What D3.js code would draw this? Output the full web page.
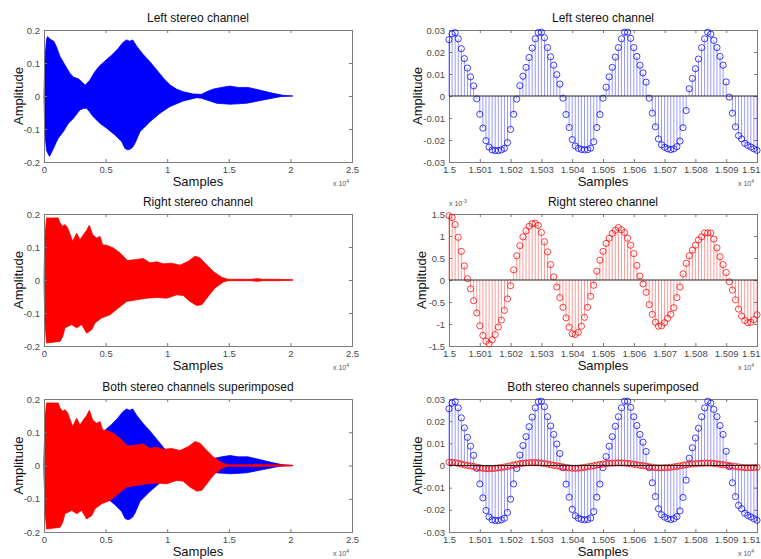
<!DOCTYPE html>
<html>
<head>
<meta charset="utf-8">
<script src="https://cdn.jsdelivr.net/npm/d3@7"></script>
<style>
  body { margin: 0; background: #fff; }
  svg { display: block; }
  text { font-family: "Liberation Sans", Arial, Helvetica, sans-serif; }
</style>
</head>
<body>
<svg id="chart" width="761" height="559"></svg>
<script>
// ---- Full-length waveform envelopes (sample index, amplitude) ----
const leftUpperX = [0, 60, 200, 300, 450, 600, 800, 1000, 1300, 1700, 2100, 2400, 2800, 3050, 3350, 3700, 4100, 4500, 4950, 5500, 6000, 6400, 6700, 6950, 7200, 7500, 8050, 8600, 9150, 9700, 10250, 10750, 11300, 12100, 12800, 13200, 13750, 14400, 15100, 15750, 16550, 17500, 18600, 19400, 20200];
const leftUpper  = [0, 0.100, 0.172, 0.180, 0.174, 0.170, 0.166, 0.150, 0.120, 0.094, 0.069, 0.057, 0.052, 0.043, 0.033, 0.047, 0.072, 0.091, 0.106, 0.124, 0.143, 0.162, 0.170, 0.166, 0.170, 0.152, 0.126, 0.104, 0.079, 0.054, 0.033, 0.021, 0.013, 0.006, 0.005, 0.013, 0.021, 0.026, 0.030, 0.026, 0.026, 0.018, 0.008, 0.002, 0];
const leftLowerX = [0, 60, 200, 450, 600, 760, 1000, 1160, 1570, 1970, 2380, 2920, 3200, 3460, 3700, 4000, 4550, 5090, 5760, 6300, 6570, 6800, 6980, 7200, 7390, 7790, 8600, 9420, 10230, 11300, 12390, 12800, 13200, 14010, 15100, 16450, 17800, 19160, 20200];
const leftLower  = [0, -0.100, -0.165, -0.183, -0.172, -0.159, -0.140, -0.128, -0.108, -0.083, -0.068, -0.042, -0.038, -0.037, -0.048, -0.063, -0.083, -0.098, -0.118, -0.138, -0.159, -0.163, -0.161, -0.155, -0.143, -0.108, -0.078, -0.052, -0.032, -0.015, -0.005, -0.007, -0.012, -0.022, -0.025, -0.022, -0.012, -0.002, 0];

const rightUpperX = [0, 60, 200, 1150, 1300, 1520, 1700, 1900, 2100, 2330, 2650, 2920, 3190, 3450, 3680, 3950, 4270, 4550, 4760, 5090, 5630, 6170, 6770, 7520, 8060, 8600, 9150, 9690, 10360, 11040, 11720, 12260, 12660, 13200, 13740, 14420, 14960, 16800, 17300, 17800, 19000, 20200];
const rightUpper  = [0, 0.120, 0.188, 0.188, 0.173, 0.163, 0.168, 0.160, 0.140, 0.117, 0.142, 0.122, 0.137, 0.150, 0.166, 0.137, 0.127, 0.132, 0.107, 0.105, 0.097, 0.082, 0.059, 0.062, 0.065, 0.052, 0.055, 0.049, 0.051, 0.045, 0.057, 0.072, 0.067, 0.046, 0.026, 0.008, 0.002, 0.002, 0.004, 0.002, 0.002, 0.001];
const rightLowerX = [0, 60, 200, 1300, 1520, 1700, 2250, 2650, 3060, 3460, 3870, 4140, 4680, 5360, 6030, 6710, 7520, 8330, 9150, 9960, 10770, 11300, 11850, 12390, 12800, 13340, 13880, 14560, 14960, 16800, 17300, 17800, 19000, 20200];
const rightLower  = [0, -0.120, -0.191, -0.186, -0.171, -0.145, -0.135, -0.145, -0.135, -0.161, -0.151, -0.130, -0.115, -0.105, -0.085, -0.065, -0.060, -0.055, -0.053, -0.055, -0.045, -0.047, -0.065, -0.077, -0.075, -0.049, -0.024, -0.006, -0.002, -0.002, -0.004, -0.002, -0.002, -0.001];

// ---- Detail window: samples 15000..15100 ----
const detailStart = 15000;
const leftDetail = [
  0.0256, 0.0282, 0.0288, 0.0260, 0.0215, 0.0170, 0.0127, 0.0087, 0.0046, -0.0013,
  -0.0083, -0.0146, -0.0203, -0.0232, -0.0245, -0.0248, -0.0248, -0.0245, -0.0238, -0.0212,
  -0.0152, -0.0083, -0.0014, 0.0047, 0.0090, 0.0130, 0.0175, 0.0218, 0.0260, 0.0288,
  0.0290, 0.0265, 0.0220, 0.0178, 0.0140, 0.0097, 0.0054, -0.0010, -0.0084, -0.0143,
  -0.0198, -0.0227, -0.0238, -0.0243, -0.0245, -0.0244, -0.0237, -0.0208, -0.0143, -0.0084,
  -0.0010, 0.0040, 0.0087, 0.0130, 0.0177, 0.0220, 0.0260, 0.0290, 0.0290, 0.0262,
  0.0220, 0.0180, 0.0140, 0.0105, 0.0063, -0.0010, -0.0078, -0.0140, -0.0195, -0.0222,
  -0.0233, -0.0240, -0.0244, -0.0240, -0.0230, -0.0205, -0.0144, -0.0066, 0.0033, 0.0080,
  0.0124, 0.0168, 0.0220, 0.0260, 0.0290, 0.0281, 0.0253, 0.0220, 0.0180, 0.0140,
  0.0064, -0.0005, -0.0078, -0.0140, -0.0180, -0.0195, -0.0215, -0.0225, -0.0232, -0.0240,
  -0.0247
];
// right channel in units of 1e-3
const rightDetailMilli = [
  1.46, 1.42, 1.26, 0.97, 0.65, 0.32, 0.03, -0.20, -0.47, -0.75,
  -1.04, -1.26, -1.39, -1.45, -1.36, -1.24, -1.07, -0.91, -0.69, -0.43,
  -0.13, 0.23, 0.55, 0.78, 0.98, 1.12, 1.22, 1.28, 1.29, 1.24,
  1.08, 0.87, 0.64, 0.35, 0.07, -0.16, -0.40, -0.62, -0.86, -1.07,
  -1.22, -1.24, -1.19, -1.05, -0.85, -0.62, -0.37, -0.12, 0.20, 0.45,
  0.65, 0.83, 0.95, 1.06, 1.13, 1.19, 1.14, 1.08, 0.95, 0.79,
  0.60, 0.33, 0.09, -0.09, -0.28, -0.56, -0.78, -0.96, -1.05, -1.04,
  -0.97, -0.87, -0.78, -0.63, -0.40, -0.16, 0.14, 0.38, 0.55, 0.68,
  0.79, 0.91, 0.98, 1.07, 1.07, 1.07, 0.93, 0.73, 0.53, 0.35,
  0.17, -0.04, -0.23, -0.45, -0.66, -0.82, -0.92, -0.97, -0.96, -0.90,
  -0.79
];

// ---- Tick values and labels ----
const fullXTicks = [0, 5000, 10000, 15000, 20000, 25000];
const fullXLabels = ["0", "0.5", "1", "1.5", "2", "2.5"];
const fullYTicks = [0.2, 0.1, 0, -0.1, -0.2];
const fullYLabels = ["0.2", "0.1", "0", "-0.1", "-0.2"];
const detailXTicks = [15000, 15010, 15020, 15030, 15040, 15050, 15060, 15070, 15080, 15090, 15100];
const detailXLabels = ["1.5", "1.501", "1.502", "1.503", "1.504", "1.505", "1.506", "1.507", "1.508", "1.509", "1.51"];
const detailYTicks = [0.03, 0.02, 0.01, 0, -0.01, -0.02, -0.03];
const detailYLabels = ["0.03", "0.02", "0.01", "0", "-0.01", "-0.02", "-0.03"];
const milliYTicks = [1.5e-3, 1e-3, 0.5e-3, 0, -0.5e-3, -1e-3, -1.5e-3];
const milliYLabels = ["1.5", "1", "0.5", "0", "-0.5", "-1", "-1.5"];

const titles = [
  ["Left stereo channel", "Left stereo channel"],
  ["Right stereo channel", "Right stereo channel"],
  ["Both stereo channels superimposed", "Both stereo channels superimposed"]
];

const BLUE = "#0000ff", RED = "#ff0000";

// ---- Layout ----
const svg = d3.select("#chart");
const W = 761;
const cols = [{ l: 44, r: 352, ylab: 22.5 }, { l: 449, r: 757, ylab: 421.5 }];
const rows = [{ t: 30, b: 162 }, { t: 214, b: 346 }, { t: 399, b: 532 }];

function frame(x, y, xt, xl, yt, yl, title, ylabX) {
  const [x0, x1] = x.range();
  const [yb, yt0] = y.range();
  const g = svg.append("g").attr("color", "#4a4a4a");
  const fmtX = (d, i) => xl[i], fmtY = (d, i) => yl[i];
  const ax = [
    g.append("g").attr("transform", `translate(0,${yb})`)
      .call(d3.axisBottom(x).tickValues(xt).tickFormat(fmtX).tickSize(-3).tickPadding(4)),
    g.append("g").attr("transform", `translate(0,${yt0})`)
      .call(d3.axisTop(x).tickValues(xt).tickFormat("").tickSize(-3)),
    g.append("g").attr("transform", `translate(${x0},0)`)
      .call(d3.axisLeft(y).tickValues(yt).tickFormat(fmtY).tickSize(-3).tickPadding(4)),
    g.append("g").attr("transform", `translate(${x1},0)`)
      .call(d3.axisRight(y).tickValues(yt).tickFormat("").tickSize(-3))
  ];
  ax.forEach(a => {
    a.select(".domain").remove();
    a.selectAll("text").attr("font-size", 9.5).attr("font-family", null);
    a.selectAll("line").attr("stroke", "#777");
  });
  // keep a tick label that would run past the page edge inside it
  ax[0].selectAll("text").each(function () {
    const t = d3.select(this);
    const tx = x(xt[xl.indexOf(t.text())]);
    const w = this.getComputedTextLength();
    if (tx + w / 2 > W - 1) t.attr("text-anchor", "end").attr("x", W - 1 - tx);
  });
  g.append("rect").attr("x", x0 + 0.5).attr("y", yt0 + 0.5)
    .attr("width", x1 - x0).attr("height", yb - yt0)
    .attr("fill", "none").attr("stroke", "#7c7c7c");

  const cx = (x0 + x1) / 2, cy = (yb + yt0) / 2;
  svg.append("text").attr("x", cx).attr("y", yt0 - 8)
    .attr("text-anchor", "middle").attr("font-size", 12).attr("fill", "#111").text(title);
  svg.append("text").attr("x", cx).attr("y", yb + 24)
    .attr("text-anchor", "middle").attr("font-size", 13).attr("fill", "#111").text("Samples");
  svg.append("text").attr("transform", `translate(${ylabX},${cy}) rotate(-90)`)
    .attr("text-anchor", "middle").attr("font-size", 13).attr("fill", "#111").text("Amplitude");

  // x-axis exponent label
  const ex = svg.append("text").attr("x", x1 - 3).attr("y", yb + 24)
    .attr("text-anchor", "end").attr("font-size", 7).attr("fill", "#555");
  ex.append("tspan").text("x 10");
  ex.append("tspan").attr("dy", -3).attr("font-size", 5).text("4");
}

function envelope(x, y, ux, uv, lx, lv, color) {
  const pts = ux.map((s, i) => [s, uv[i]])
    .concat(lx.map((s, i) => [s, lv[i]]).reverse());
  const line = d3.line().x(p => x(p[0])).y(p => y(p[1]));
  svg.append("path").attr("d", line(pts) + "Z").attr("fill", color)
    .attr("stroke", color).attr("stroke-width", 0.8).attr("stroke-linejoin", "round");
}

function stems(x, y, vals, color) {
  const xs = vals.map((d, i) => detailStart + i);
  const g = svg.append("g");
  g.append("g").selectAll("line").data(vals).join("line")
    .attr("x1", (d, i) => x(xs[i])).attr("x2", (d, i) => x(xs[i]))
    .attr("y1", y(0)).attr("y2", d => y(d))
    .attr("stroke", color).attr("stroke-opacity", 0.4).attr("stroke-width", 1);
  g.append("g").selectAll("circle").data(vals).join("circle")
    .attr("cx", (d, i) => x(xs[i])).attr("cy", d => y(d)).attr("r", 3.1)
    .attr("fill", "none").attr("stroke", color).attr("stroke-opacity", 0.75).attr("stroke-width", 1);
}

function baseline(x, y) {
  svg.append("line").attr("x1", x.range()[0]).attr("x2", x.range()[1])
    .attr("y1", y(0)).attr("y2", y(0)).attr("stroke", "#222").attr("stroke-width", 1);
}

const rightMilli = rightDetailMilli.map(v => v * 1e-3);

rows.forEach((row, ri) => {
  // Full-length waveform (left column)
  const xF = d3.scaleLinear().domain([0, 25000]).range([cols[0].l, cols[0].r]);
  const yF = d3.scaleLinear().domain([-0.2, 0.2]).range([row.b, row.t]);
  if (ri === 0 || ri === 2) envelope(xF, yF, leftUpperX, leftUpper, leftLowerX, leftLower, BLUE);
  if (ri === 1 || ri === 2) envelope(xF, yF, rightUpperX, rightUpper, rightLowerX, rightLower, RED);
  frame(xF, yF, fullXTicks, fullXLabels, fullYTicks, fullYLabels, titles[ri][0], cols[0].ylab);

  // Detail stem plot (right column)
  const xD = d3.scaleLinear().domain([15000, 15100]).range([cols[1].l, cols[1].r]);
  if (ri === 1) {
    const yD = d3.scaleLinear().domain([-1.5e-3, 1.5e-3]).range([row.b, row.t]);
    frame(xD, yD, detailXTicks, detailXLabels, milliYTicks, milliYLabels, titles[ri][1], 426);
    stems(xD, yD, rightMilli, RED);
    baseline(xD, yD);
    const ey = svg.append("text").attr("x", cols[1].l).attr("y", row.t - 8)
      .attr("font-size", 7).attr("fill", "#555");
    ey.append("tspan").text("x 10");
    ey.append("tspan").attr("dy", -3).attr("font-size", 5).text("-3");
  } else {
    const yD = d3.scaleLinear().domain([-0.03, 0.03]).range([row.b, row.t]);
    frame(xD, yD, detailXTicks, detailXLabels, detailYTicks, detailYLabels, titles[ri][1], cols[1].ylab);
    stems(xD, yD, leftDetail, BLUE);
    if (ri === 2) stems(xD, yD, rightMilli, RED);
    baseline(xD, yD);
  }
});
</script>
</body>
</html>
